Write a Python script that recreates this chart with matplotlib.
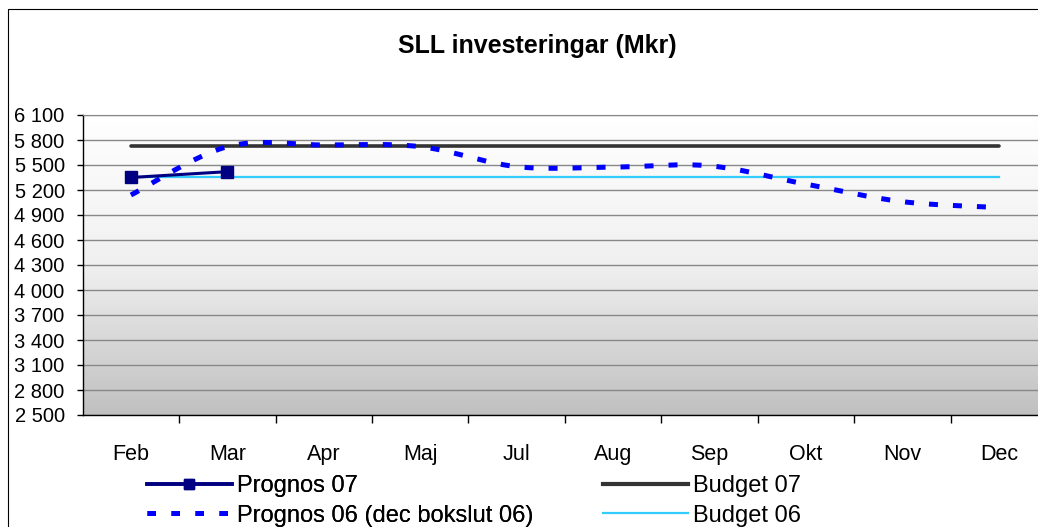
import matplotlib

matplotlib.use("Agg")
import matplotlib.pyplot as plt
import numpy as np
from matplotlib.colors import LinearSegmentedColormap
from matplotlib.lines import Line2D
from matplotlib.patches import Rectangle
from matplotlib.ticker import FixedLocator, FuncFormatter

plt.rcParams["font.family"] = ["Liberation Sans", "DejaVu Sans"]

MONTHS = ["Feb", "Mar", "Apr", "Maj", "Jul", "Aug", "Sep", "Okt", "Nov", "Dec"]
PROGNOS_07 = [5350, 5420]
PROGNOS_06 = [5140, 5720, 5740, 5720, 5480, 5475, 5490, 5270, 5060, 4990]
BUDGET_07 = [5730, 5730, 5730, 5730, 5730, 5730, 5730, 5730, 5730, 5730]
BUDGET_06 = [5360, 5360, 5360, 5360, 5360, 5360, 5360, 5360, 5360, 5360]
Y_TICKS = [2500, 2800, 3100, 3400, 3700, 4000, 4300, 4600, 4900, 5200, 5500, 5800, 6100]

W, H = 1038, 527


def catmull_rom(points, n_per_seg=24):
    """Smooth line through the nodes, like Excel's 'smoothed line'."""
    pts = np.vstack([points[0], points, points[-1]])
    out = []
    for i in range(1, len(pts) - 2):
        p0, p1, p2, p3 = pts[i - 1], pts[i], pts[i + 1], pts[i + 2]
        t = np.linspace(0, 1, n_per_seg)[:, None]
        out.append(0.5 * ((2 * p1) + (-p0 + p2) * t
                          + (2 * p0 - 5 * p1 + 4 * p2 - p3) * t ** 2
                          + (-p0 + 3 * p1 - 3 * p2 + p3) * t ** 3))
    return np.vstack(out)


fig = plt.figure(figsize=(W / 100, H / 100), dpi=100)
ax = fig.add_axes([82.7 / W, 1 - 415 / H, 964.5 / W, 300 / H])

x = np.arange(len(MONTHS))

# gradient plot area
cmap = LinearSegmentedColormap.from_list("bg", ["#ffffff", "#f0f0f0", "#c0c0c0"])
ax.imshow(np.linspace(0, 1, 256).reshape(-1, 1), cmap=cmap, aspect="auto",
          extent=[-0.5, len(MONTHS) - 0.5, Y_TICKS[0], Y_TICKS[-1]], zorder=0)

ax.plot(x, BUDGET_07, color="#333333", lw=2.6, solid_capstyle="round", zorder=3)
ax.plot(x, BUDGET_06, color="#33ccff", lw=1.6, zorder=3)

smooth = catmull_rom(np.column_stack([x, PROGNOS_06]).astype(float))
ax.plot(smooth[:, 0], smooth[:, 1], color="#0000ff", lw=3.6,
        dashes=(1.8, 3.0), dash_capstyle="butt", zorder=4)
ax.plot(x[:len(PROGNOS_07)], PROGNOS_07, color="#000080", lw=2.2, marker="s",
        markersize=9, zorder=5)

ax.set_xlim(-0.5, len(MONTHS) - 0.5)
ax.set_ylim(Y_TICKS[0], Y_TICKS[-1])

ax.set_yticks(Y_TICKS)
ax.yaxis.set_major_formatter(FuncFormatter(lambda v, _: f"{int(v):,}".replace(",", " ")))
ax.set_xticks(x)
ax.set_xticklabels(MONTHS)
ax.xaxis.set_minor_locator(FixedLocator(np.arange(0.5, len(MONTHS) - 0.5, 1.0)))
ax.tick_params(axis="x", which="major", length=0, pad=21, labelsize=15.5)
ax.tick_params(axis="x", which="minor", length=6, width=1, direction="out")
ax.tick_params(axis="y", length=4, width=1, direction="out", pad=9, labelsize=14.5)

ax.grid(axis="y", color="#888888", lw=1)
ax.set_axisbelow(True)
for side in ("top", "right"):
    ax.spines[side].set_color("#888888")
for side in ("left", "bottom"):
    ax.spines[side].set_color("black")
    ax.spines[side].set_linewidth(1)

fig.text(537 / W, 1 - 46 / H, "SLL investeringar (Mkr)", ha="center", va="center",
         fontsize=18, fontweight="bold")

# chart border (right and bottom fall outside the picture)
fig.add_artist(Rectangle((8 / W, -0.1), 1.2, 1.1 - 9 / H, transform=fig.transFigure,
                         fill=False, ec="black", lw=0.8))

legend_kw = dict(loc="upper left", frameon=False, fontsize=17, handlelength=3.6,
                 handletextpad=0.22, borderpad=0, borderaxespad=0, labelspacing=0.32)
left = fig.legend(
    [Line2D([], [], color="#000080", lw=2.6, marker="s", markersize=7),
     Line2D([], [], color="#0000ff", lw=3.6, dashes=(1.7, 3.1), dash_capstyle="butt")],
    ["Prognos 07", "Prognos 06 (dec bokslut 06)"],
    bbox_to_anchor=(146.7 / W, 1 - 475 / H), **legend_kw)
fig.add_artist(left)
fig.legend(
    [Line2D([], [], color="#333333", lw=3.0),
     Line2D([], [], color="#33ccff", lw=1.6)],
    ["Budget 07", "Budget 06"],
    bbox_to_anchor=(603 / W, 1 - 475 / H), **legend_kw)

fig.savefig("out.png", dpi=100)
